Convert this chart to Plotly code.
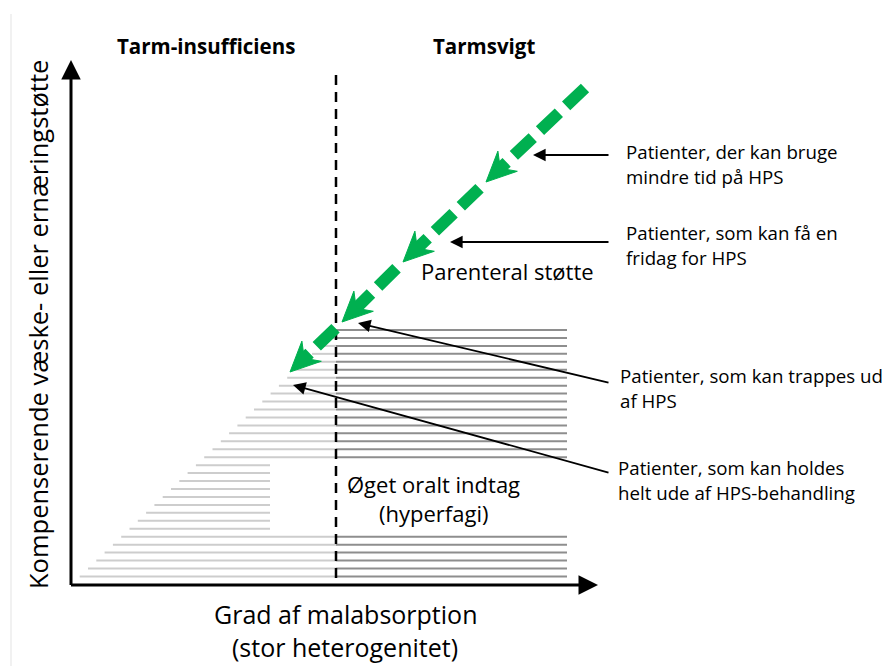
import numpy as np
import plotly.graph_objects as go

W, H = 885, 666
FONT = "Open Sans"

# ---- text content ----
region_titles = ["Tarm-insufficiens", "Tarmsvigt"]
region_title_x = [206, 484]
y_axis_title = "Kompenserende væske- eller ernæringstøtte"
x_axis_title = ["Grad af malabsorption", "(stor heterogenitet)"]
callout_lines = [
    ["Patienter, der kan bruge", "mindre tid på HPS"],
    ["Patienter, som kan få en", "fridag for HPS"],
    ["Patienter, som kan trappes ud", "af HPS"],
    ["Patienter, som kan holdes", "helt ude af HPS-behandling"],
]
callout_x = [624, 624, 618, 616]
callout_y = [151, 232, 375, 467]
callout_tail = [(610, 155), (610, 242), (610, 383), (610, 473)]
callout_tip = [(533, 155), (450, 242), (358, 323), (293, 385)]
zone_labels = [["Parenteral støtte"], ["Øget oralt indtag", "(hyperfagi)"]]
zone_x = [507, 433]
zone_y = [271, 484]

# ---- geometry of the schematic ----
origin = (71, 585)
y_axis_top = 60
x_axis_end = 598
divider_x = 336
divider_top = 75
hatch_top = 330
hatch_step = 7.95
hatch_count = 32
hatch_gap = list(range(17, 26))      # rows missing in the middle band
hatch_right_end = 567
hatch_left_slope = 8.3
hatch_mid_end = 270
green_start = (585, 88)
green_tips = [(486, 182), (403, 262), (342, 322), (290, 372)]

fig = go.Figure()

# faint page border line
fig.add_trace(go.Scatter(x=[11, 11], y=[14, 666], mode="lines",
                         line=dict(color="#e3e3e3", width=1), hoverinfo="skip"))

# hatching
lx, ly, rx, ry = [], [], [], []
for k in range(hatch_count):
    y = hatch_top + hatch_step * k
    left = divider_x + 1 - hatch_left_slope * k
    right = hatch_mid_end if k in hatch_gap else divider_x
    if right - left > 1:
        lx += [left, right, None]
        ly += [y, y, None]
    if k not in hatch_gap:
        rx += [divider_x, hatch_right_end, None]
        ry += [y, y, None]
fig.add_trace(go.Scatter(x=lx, y=ly, mode="lines",
                         line=dict(color="#cdcdcd", width=2), hoverinfo="skip"))
fig.add_trace(go.Scatter(x=rx, y=ry, mode="lines",
                         line=dict(color="#8e8e8e", width=2), hoverinfo="skip"))

# divider
fig.add_trace(go.Scatter(x=[divider_x, divider_x], y=[divider_top, origin[1]], mode="lines",
                         line=dict(color="black", width=2.5, dash="10px,7px"), hoverinfo="skip"))

# green dashed arrow with several heads
g = "#00b050"
d = np.array(green_tips[-1], float) - np.array(green_start, float)
u = d / np.linalg.norm(d)
n = np.array([-u[1], u[0]])
L, Wd = 30, 14
start = np.array(green_start, float)
for t in green_tips:
    T = np.array(t, float)
    notch = T - 0.66 * L * u
    fig.add_trace(go.Scatter(x=[start[0], notch[0] + 3 * u[0]], y=[start[1], notch[1] + 3 * u[1]],
                             mode="lines", line=dict(color=g, width=12, dash="26px,10px"),
                             hoverinfo="skip"))
    A = T - L * u + Wd * n
    B = T - L * u - Wd * n
    poly = np.array([T, A, notch, B, T])
    fig.add_trace(go.Scatter(x=poly[:, 0], y=poly[:, 1], mode="lines", fill="toself",
                             fillcolor=g, line=dict(color=g, width=1), hoverinfo="skip"))
    start = T + 9 * u

annotations = []
# axes
annotations.append(dict(x=origin[0], y=y_axis_top, ax=origin[0], ay=origin[1] + 1.5,
                        xref="x", yref="y", axref="x", ayref="y", text="", showarrow=True,
                        arrowhead=2, arrowsize=1.3, arrowwidth=3, arrowcolor="black"))
annotations.append(dict(x=x_axis_end, y=origin[1], ax=origin[0] - 1.5, ay=origin[1],
                        xref="x", yref="y", axref="x", ayref="y", text="", showarrow=True,
                        arrowhead=2, arrowsize=1.3, arrowwidth=3, arrowcolor="black"))
# callout arrows
for tail, tip in zip(callout_tail, callout_tip):
    annotations.append(dict(x=tip[0], y=tip[1], ax=tail[0], ay=tail[1],
                            xref="x", yref="y", axref="x", ayref="y", text="", showarrow=True,
                            arrowhead=2, arrowsize=1.4, arrowwidth=1.8, arrowcolor="black"))

# texts
for t, x in zip(region_titles, region_title_x):
    annotations.append(dict(x=x, y=46, xref="x", yref="y", text="<b>" + t + "</b>",
                            showarrow=False, font=dict(family=FONT, size=20.5, color="black")))
annotations.append(dict(x=38, y=325, xref="x", yref="y", text=y_axis_title, textangle=-90,
                        showarrow=False, font=dict(family=FONT, size=25.5, color="black")))
for i, t in enumerate(x_axis_title):
    annotations.append(dict(x=345, y=614 + 33 * i, xref="x", yref="y", text=t,
                            showarrow=False, font=dict(family=FONT, size=25, color="black")))
for lines, x, y in zip(callout_lines, callout_x, callout_y):
    for j, t in enumerate(lines):
        annotations.append(dict(x=x, y=y + 25.5 * j, xref="x", yref="y", text=t,
                                xanchor="left", showarrow=False,
                                font=dict(family=FONT, size=18.7, color="black")))
for lines, x, y in zip(zone_labels, zone_x, zone_y):
    for j, t in enumerate(lines):
        annotations.append(dict(x=x, y=y + 28.5 * j, xref="x", yref="y", text=t,
                                showarrow=False, font=dict(family=FONT, size=22, color="black")))

fig.update_layout(
    width=W, height=H, margin=dict(l=0, r=0, t=0, b=0),
    paper_bgcolor="white", plot_bgcolor="white", showlegend=False,
    xaxis=dict(range=[0, W], visible=False, fixedrange=True),
    yaxis=dict(range=[H, 0], visible=False, fixedrange=True),
    annotations=annotations,
)
fig.write_html("out.html", config={"displayModeBar": False},
               post_script="document.body.style.margin='0';document.body.style.overflow='hidden';")
